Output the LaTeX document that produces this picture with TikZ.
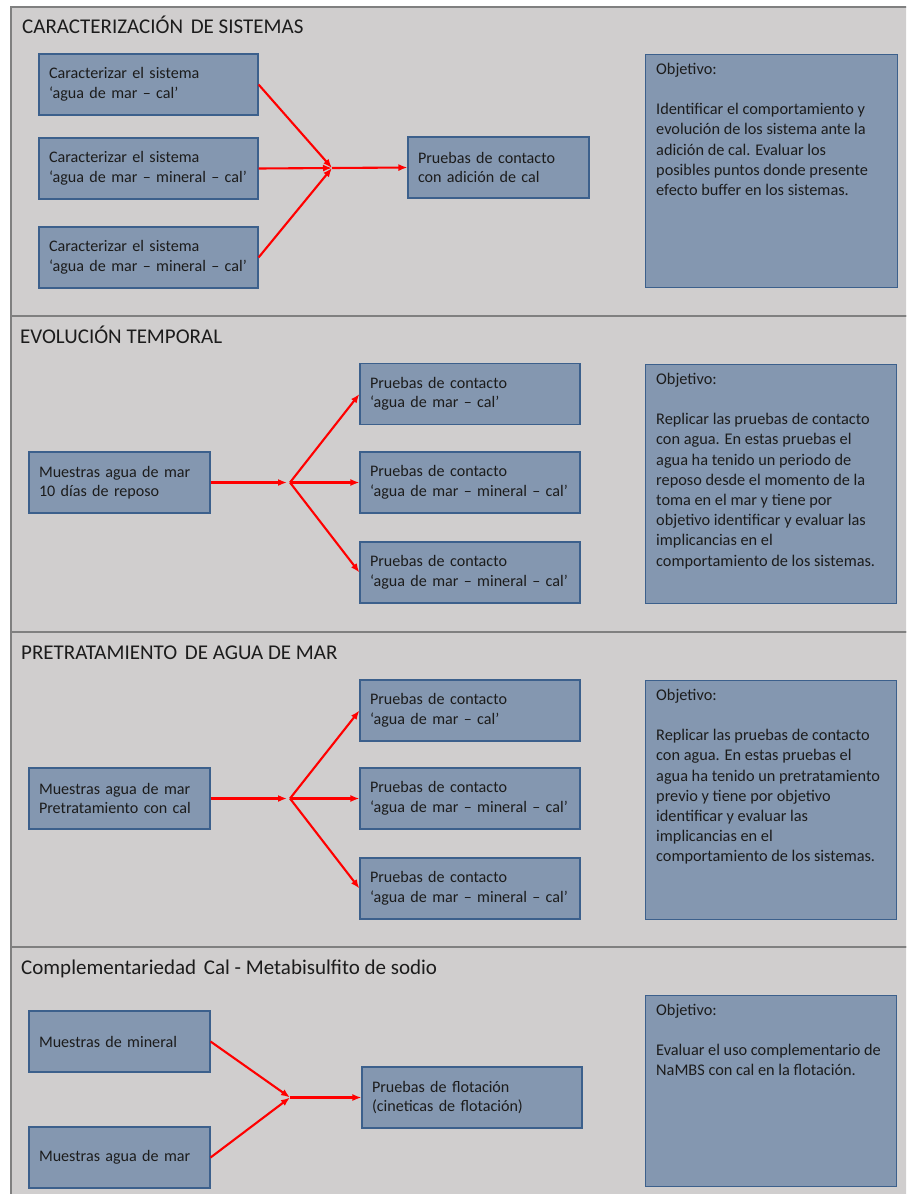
\documentclass[tikz,border=0pt]{standalone}
\usepackage{fontspec}
\setmainfont{Carlito}
\usetikzlibrary{arrows.meta}
\definecolor{panelbg}{RGB}{208,206,206}
\definecolor{panelline}{RGB}{128,128,128}
\definecolor{boxfill}{RGB}{132,151,176}
\definecolor{boxline}{RGB}{60,96,140}
\definecolor{txt}{RGB}{28,28,28}
\newcommand\keepline[1]{\mbox{#1}}
\begin{document}
\begin{tikzpicture}[x=1pt,y=-1pt,
  panel/.style={fill=panelbg,draw=panelline,line width=1.5pt},
  box/.style={draw=boxline,fill=boxfill,line width=1.1pt,inner sep=0pt,
    align=left,text=txt,font=\fontsize{16.1}{19.5}\selectfont,minimum height=61},
  objbox/.style={draw=boxline,fill=boxfill,line width=1.1pt,inner sep=0pt,anchor=north west},
  objtext/.style={inner sep=0pt,anchor=north west,align=left,text=txt,
    font=\fontsize{16.3}{20.2}\selectfont},
  title/.style={inner sep=0pt,anchor=base west,text=txt,font=\fontsize{21}{25}\selectfont},
  arr/.style={draw=red,line width=2.1pt,-{Latex[length=9pt,width=7pt]}}]
\useasboundingbox (0,0) rectangle (906,1194);
\fill[white] (0,0) rectangle (906,1194);
\clip (0,0) rectangle (906,1194);

% panels
\draw[panel] (11,7) rectangle (912,316);
\draw[panel] (11,316) rectangle (912,632);
\draw[panel] (11,632) rectangle (912,947);
\draw[panel] (11,947) rectangle (912,1200);

% titles
\node[title] (h1) at (22,33.5) {CARACTERIZACIÓN\hspace{3pt} DE SISTEMAS};
\node[title] (h2) at (20,343) {EVOLUCIÓN TEMPORAL};
\node[title] (h3) at (21,659) {PRETRATAMIENTO\hspace{3pt} DE AGUA DE MAR};
\node[title] (h4) at (21,974.5) {Complementariedad\hspace{3pt} Cal - Metabisulfito de sodio};

% ---------- panel 1
\node[box,minimum width=219,text width=199] (a1) at (148.5,84.5) {Caracterizar el sistema\\\keepline{‘agua de mar – cal’}};
\node[box,minimum width=219,text width=199] (a2) at (148.5,168.5) {Caracterizar el sistema\\\keepline{‘agua de mar – mineral – cal’}};
\node[box,minimum width=219,text width=199] (a3) at (148.5,257.5) {Caracterizar el sistema\\\keepline{‘agua de mar – mineral – cal’}};
\node[box,minimum width=181,text width=161] (t1) at (498.5,167.5) {Pruebas de contacto\\con adición de cal};
\coordinate (j1) at (332,168);
\draw[arr] (a1.east) -- (j1);
\draw[arr] (a2.east) -- (j1);
\draw[arr] (a3.east) -- (j1);
\draw[arr] (j1) -- (t1.west);
\node[objbox,minimum width=252,minimum height=233] (o1) at (645,54) {};
\node[objtext] (o1t) at ([shift={(11,9)}]o1.north west) {Objetivo:\\[20pt]Identificar el comportamiento y\\evolución de los sistema ante la\\adición de cal. Evaluar los\\posibles puntos donde presente\\efecto buffer en los sistemas.};

% ---------- panel 2
\node[box,minimum width=181,text width=161] (s2) at (119.5,482.5) {Muestras agua de mar\\10 días de reposo};
\node[box,minimum width=220,text width=200] (b1) at (470,394) {Pruebas de contacto\\\keepline{‘agua de mar – cal’}};
\node[box,minimum width=220,text width=200] (b2) at (470,482.5) {Pruebas de contacto\\\keepline{‘agua de mar – mineral – cal’}};
\node[box,minimum width=220,text width=200] (b3) at (470,572.5) {Pruebas de contacto\\\keepline{‘agua de mar – mineral – cal’}};
\coordinate (j2) at (290,482.5);
\draw[arr,shorten >=3pt] (s2.east) -- (j2);
\draw[arr] (j2) -- (b1.west);
\draw[arr] (j2) -- (b2.west);
\draw[arr] (j2) -- (b3.west);
\node[objbox,minimum width=251,minimum height=239] (o2) at (645,364) {};
\node[objtext] (o2t) at ([shift={(11,9)}]o2.north west) {Objetivo:\\[20pt]Replicar las pruebas de contacto\\con agua. En estas pruebas el\\agua ha tenido un periodo de\\reposo desde el momento de la\\toma en el mar y tiene por\\objetivo identificar y evaluar las\\implicancias en el\\comportamiento de los sistemas.};

% ---------- panel 3
\node[box,minimum width=181,text width=161] (s3) at (119.5,798.5) {Muestras agua de mar\\Pretratamiento con cal};
\node[box,minimum width=220,text width=200] (c1) at (470,710.5) {Pruebas de contacto\\\keepline{‘agua de mar – cal’}};
\node[box,minimum width=220,text width=200] (c2) at (470,798.5) {Pruebas de contacto\\\keepline{‘agua de mar – mineral – cal’}};
\node[box,minimum width=220,text width=200] (c3) at (470,888.5) {Pruebas de contacto\\\keepline{‘agua de mar – mineral – cal’}};
\coordinate (j3) at (290,798.5);
\draw[arr,shorten >=3pt] (s3.east) -- (j3);
\draw[arr] (j3) -- (c1.west);
\draw[arr] (j3) -- (c2.west);
\draw[arr] (j3) -- (c3.west);
\node[objbox,minimum width=251,minimum height=239] (o3) at (645,680) {};
\node[objtext] (o3t) at ([shift={(11,9)}]o3.north west) {Objetivo:\\[20pt]Replicar las pruebas de contacto\\con agua. En estas pruebas el\\agua ha tenido un pretratamiento\\previo y tiene por objetivo\\identificar y evaluar las\\implicancias en el\\comportamiento de los sistemas.};

% ---------- panel 4
\node[box,minimum width=181,text width=161] (m4) at (119.5,1041.5) {Muestras de mineral};
\node[box,minimum width=181,text width=161] (w4) at (119.5,1157.5) {Muestras agua de mar};
\node[box,minimum width=220,text width=200] (t4) at (472,1097.5) {Pruebas de flotación\\(cineticas de flotación)};
\coordinate (j4) at (290,1097.5);
\draw[arr] (m4.east) -- (j4);
\draw[arr] (w4.east) -- (j4);
\draw[arr] (j4) -- (t4.west);
\node[objbox,minimum width=251,minimum height=191] (o4) at (645,995) {};
\node[objtext] (o4t) at ([shift={(11,9)}]o4.north west) {Objetivo:\\[20pt]Evaluar el uso complementario de\\NaMBS con cal en la flotación.};
\end{tikzpicture}
\end{document}
